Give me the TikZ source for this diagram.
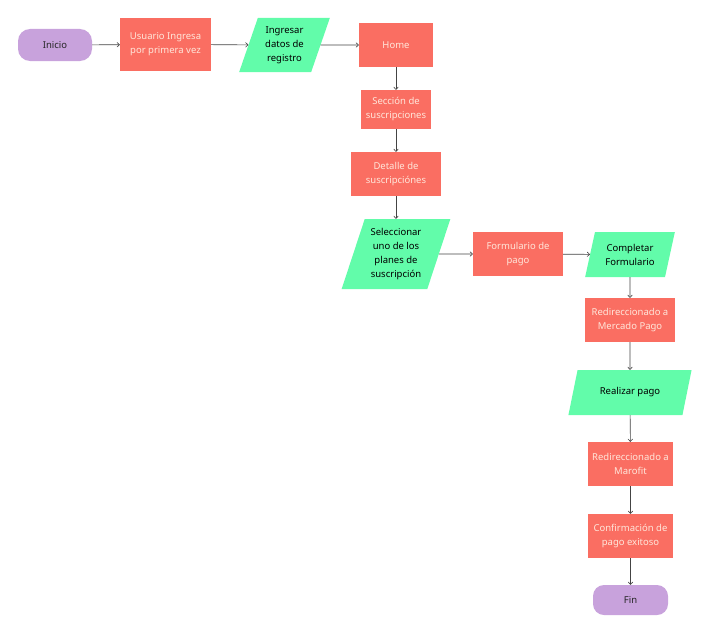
\documentclass[tikz,border=0pt]{standalone}
\usepackage{fontspec}
\setmainfont{Noto Sans}
\usetikzlibrary{shapes.geometric,arrows.meta}
\definecolor{boxred}{HTML}{FA6E62}
\definecolor{boxgreen}{HTML}{62FCAA}
\definecolor{boxpurple}{HTML}{C8A2DC}
\definecolor{redtext}{HTML}{FFE6DA}
\definecolor{linegray}{HTML}{444444}
\begin{document}
\begin{tikzpicture}[x=1pt,y=-1pt,
  every node/.style={font=\fontsize{9.5}{14}\selectfont, align=center, inner sep=0pt},
  procbox/.style={rectangle, fill=boxred, text=redtext},
  iobox/.style={trapezium, trapezium left angle=70, trapezium right angle=110, fill=boxgreen, text=black},
  termbox/.style={rectangle, rounded corners=12pt, fill=boxpurple, text=black!85},
  conn/.style={draw=linegray, line width=0.6pt, -{To[length=3pt,width=5pt]}}]
\useasboundingbox (0,0) rectangle (711,634);
\node[termbox, minimum width=74pt, minimum height=32pt] (inicio) at (55,45) {Inicio};
\node[procbox, minimum width=91pt, minimum height=53pt] (usuario) at (165.5,44.5) {Usuario Ingresa\\por primera vez};
\node[iobox, trapezium stretches=true, minimum width=91pt, minimum height=54pt] (ingresar) at (284.5,45) {Ingresar\\datos de\\registro};
\node[procbox, minimum width=74pt, minimum height=44pt] (home) at (396,45) {Home};
\node[procbox, minimum width=70pt, minimum height=39pt] (seccion) at (396,109.5) {Sección de\\suscripciones};
\node[procbox, minimum width=90pt, minimum height=44pt] (detalle) at (396,174) {Detalle de\\suscripciónes};
\node[iobox, trapezium stretches=true, trapezium left angle=70, trapezium right angle=110, minimum width=109pt, minimum height=70pt] (selec) at (396,254) {Seleccionar\\uno de los\\planes de\\suscripción};
\node[procbox, minimum width=90pt, minimum height=44pt] (formulario) at (518,254) {Formulario de\\pago};
\node[iobox, trapezium stretches=true, trapezium left angle=72, trapezium right angle=108, minimum width=90pt, minimum height=45pt] (completar) at (630,254.5) {Completar\\Formulario};
\node[procbox, minimum width=90pt, minimum height=44pt] (mercado) at (630,320) {Redireccionado a\\Mercado Pago};
\node[iobox, trapezium stretches=true, trapezium left angle=61, trapezium right angle=119, minimum width=124pt, minimum height=45pt] (realizar) at (630,392.5) {Realizar pago};
\node[procbox, minimum width=85pt, minimum height=44pt] (marofit) at (630.5,464) {Redireccionado a\\Marofit};
\node[procbox, minimum width=85pt, minimum height=44pt] (confirm) at (630.5,536) {Confirmación de\\pago exitoso};
\node[termbox, rounded corners=11pt, minimum width=75pt, minimum height=30pt] (fin) at (630.5,600) {Fin};
\draw[conn] (inicio) -- (usuario);
\draw[conn] (usuario) -- (ingresar);
\draw[conn] (ingresar) -- (home);
\draw[conn] (home) -- (seccion);
\draw[conn] (seccion) -- (detalle);
\draw[conn] (detalle) -- (selec);
\draw[conn] (selec) -- (formulario);
\draw[conn] (formulario) -- (completar);
\draw[conn] (completar) -- (mercado);
\draw[conn] (mercado) -- (realizar);
\draw[conn] (realizar) -- (marofit);
\draw[conn] (marofit) -- (confirm);
\draw[conn] (confirm) -- (fin);
\end{tikzpicture}
\end{document}
